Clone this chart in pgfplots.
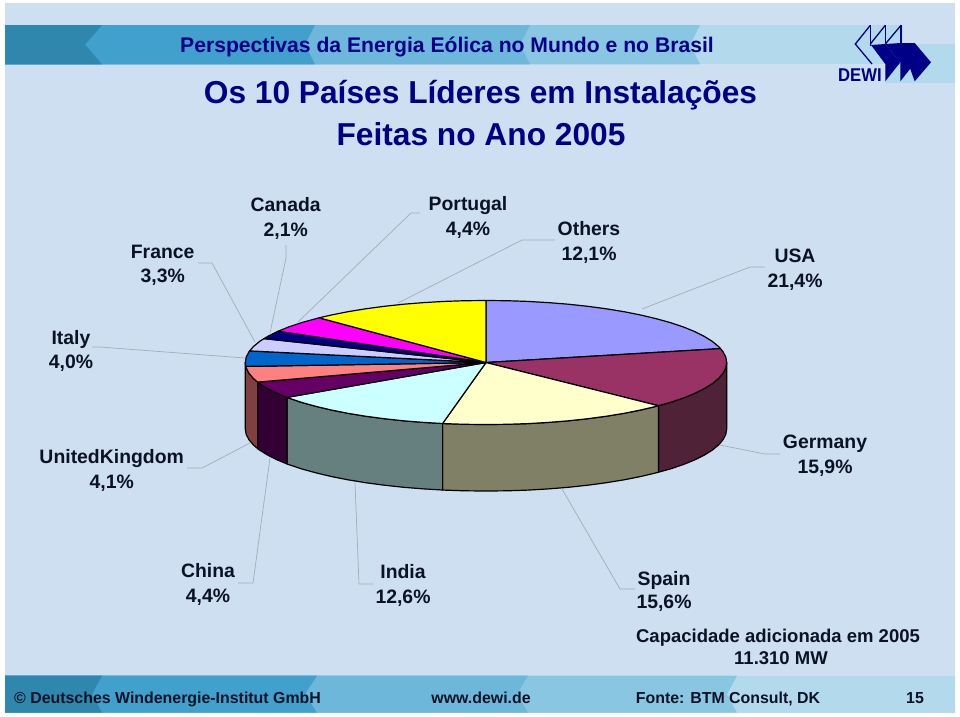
\documentclass[border=0pt]{standalone}
\usepackage{pgfplots}
\pgfplotsset{compat=1.18}
\usepackage{fontspec}
\setmainfont{Liberation Sans}
\definecolor{bg}{HTML}{CEDFF1}
\definecolor{txt}{HTML}{0B1226}
\definecolor{nav}{HTML}{000086}
\definecolor{ln}{HTML}{A3ADB8}
\definecolor{b1}{HTML}{2F87AD}
\definecolor{b2}{HTML}{41A0CC}
\definecolor{b3}{HTML}{6DB7DA}
\definecolor{b4}{HTML}{88C6E2}
\definecolor{b5}{HTML}{B2DAEC}
\tikzset{lbl/.style={anchor=base,inner sep=0pt,text=txt,font=\bfseries\fontsize{19.4}{23}\selectfont},
 capt/.style={lbl,font=\bfseries\fontsize{18.5}{22}\selectfont},
 foot/.style={lbl,font=\bfseries\fontsize{15.9}{20}\selectfont},
 wedge/.style={draw=black,line width=1.2pt,line join=round}}
\begin{document}
\begin{tikzpicture}
\begin{axis}[scale only axis,width=960pt,height=716pt,xmin=0,xmax=960,ymin=0,ymax=716,y dir=reverse,hide axis,no markers,clip=true]
% page and backdrop
\addplot[fill=white,draw=none] coordinates {(0,0)(960,0)(960,716)(0,716)} -- cycle;
\addplot[fill=bg,draw=none] coordinates {(5,3)(955,3)(955,713)(5,713)} -- cycle;
% top band
\addplot[fill=b5,draw=none] coordinates {(885,44)(955,44)(955,83)(885,83)} -- cycle;
\addplot[fill=b5,draw=none] coordinates {(5,25)(903,25)(903,64.3)(5,64.3)} -- cycle;
\addplot[fill=b4,draw=none] coordinates {(5,25)(700,25)(690,44.6)(700,64.3)(5,64.3)} -- cycle;
\addplot[fill=b3,draw=none] coordinates {(5,25)(530,25)(520,44.6)(530,64.3)(5,64.3)} -- cycle;
\addplot[fill=b2,draw=none] coordinates {(5,25)(315,25)(305,44.6)(315,64.3)(5,64.3)} -- cycle;
\addplot[fill=b1,draw=none] coordinates {(5,25)(102,25)(85,44.6)(102,64.3)(5,64.3)} -- cycle;
% bottom band
\addplot[fill=b5,draw=none] coordinates {(5,675.7)(955,675.7)(955,712.7)(5,712.7)} -- cycle;
\addplot[fill=b4,draw=none] coordinates {(5,675.7)(737,675.7)(727,694.2)(737,712.7)(5,712.7)} -- cycle;
\addplot[fill=b3,draw=none] coordinates {(5,675.7)(528,675.7)(517,694.2)(528,712.7)(5,712.7)} -- cycle;
\addplot[fill=b2,draw=none] coordinates {(5,675.7)(317,675.7)(305,694.2)(317,712.7)(5,712.7)} -- cycle;
\addplot[fill=b1,draw=none] coordinates {(5,675.7)(102,675.7)(92,694.2)(102,712.7)(5,712.7)} -- cycle;
% logo
\addplot[draw=nav,line width=1.3pt] coordinates {(870.3,25.3)(855.3,44)(872,64)};
\addplot[draw=nav,line width=1.3pt] coordinates {(870.3,25.3)(870.3,46)};
\addplot[draw=nav,line width=1.3pt] coordinates {(885.3,25.3)(870.3,44)};
\addplot[draw=nav,line width=1.3pt] coordinates {(885.3,25.3)(885.3,44)};
\addplot[draw=nav,line width=1.3pt] coordinates {(901,25.3)(885.3,44)};
\addplot[draw=nav,line width=1.3pt] coordinates {(901,25.3)(901,44)};
\addplot[fill=nav,draw=none] coordinates {(871,45)(885.3,44)(900.3,62.3)(885.3,81.3)(885.3,64)} -- cycle;
\addplot[fill=nav,draw=none] coordinates {(885.3,44)(901,43)(915.3,62.3)(900.3,81.3)(900.3,62.3)} -- cycle;
\addplot[fill=nav,draw=none] coordinates {(901,43)(914.7,43)(931,62.3)(914.7,81.3)} -- cycle;
\node[anchor=base west,inner sep=0pt,text=nav,xscale=0.9] at (axis cs:838,81.3) {\fontsize{18.5}{20}\selectfont\bfseries DEWI};
% leader lines
\addplot[ln,line width=0.7pt] coordinates {(198,263)(212,263)(255,342)};
\addplot[ln,line width=0.7pt] coordinates {(286,245)(286,258)(270,333)};
\addplot[ln,line width=0.7pt] coordinates {(420,213)(411,213)(298,322)};
\addplot[ln,line width=0.7pt] coordinates {(555,240)(522,240)(398,303)};
\addplot[ln,line width=0.7pt] coordinates {(765,267)(750,267)(642,309)};
\addplot[ln,line width=0.7pt] coordinates {(92,347)(100,347)(245,358)};
\addplot[ln,line width=0.7pt] coordinates {(187,468)(202,468)(250,443)};
\addplot[ln,line width=0.7pt] coordinates {(238,583)(253,583)(270,458)};
\addplot[ln,line width=0.7pt] coordinates {(373,584)(359,584)(355,483)};
\addplot[ln,line width=0.7pt] coordinates {(635,589)(620,589)(562,489)};
\addplot[ln,line width=0.7pt] coordinates {(780,454)(765,454)(720,445)};
% side walls
\addplot[wedge,fill={rgb,255:red,79;green,34;blue,55}] coordinates {(726.7,362.5)(725.8,367.9)(723,373.3)(718.5,378.5)(712.2,383.7)(704.1,388.7)(694.5,393.5)(683.2,398.1)(670.4,402.4)(658.5,405.7)(658.5,472.2)(670.4,468.9)(683.2,464.6)(694.5,460)(704.1,455.2)(712.2,450.2)(718.5,445)(723,439.8)(725.8,434.4)(726.7,429)} -- cycle;
\addplot[wedge,fill={rgb,255:red,128;green,128;blue,102}] coordinates {(658.5,405.7)(656.2,406.3)(640.7,410)(624.1,413.3)(606.4,416.2)(587.7,418.7)(568.3,420.8)(548.3,422.4)(527.8,423.6)(507,424.3)(486,424.5)(465,424.3)(444.2,423.6)(442.6,423.5)(442.6,490)(444.2,490.1)(465,490.8)(486,491)(507,490.8)(527.8,490.1)(548.3,488.9)(568.3,487.3)(587.7,485.2)(606.4,482.7)(624.1,479.8)(640.7,476.5)(656.2,472.8)(658.5,472.2)} -- cycle;
\addplot[wedge,fill={rgb,255:red,102;green,128;blue,128}] coordinates {(442.6,423.5)(423.7,422.4)(403.7,420.8)(384.3,418.7)(365.6,416.2)(347.9,413.3)(331.3,410)(315.8,406.3)(301.6,402.4)(288.8,398.1)(286.9,397.4)(286.9,463.9)(288.8,464.6)(301.6,468.9)(315.8,472.8)(331.3,476.5)(347.9,479.8)(365.6,482.7)(384.3,485.2)(403.7,487.3)(423.7,488.9)(442.6,490)} -- cycle;
\addplot[wedge,fill={rgb,255:red,51;green,0;blue,51}] coordinates {(286.9,397.4)(277.5,393.5)(267.9,388.7)(259.8,383.7)(257.6,382.1)(257.6,448.6)(259.8,450.2)(267.9,455.2)(277.5,460)(286.9,463.9)} -- cycle;
\addplot[wedge,fill={rgb,255:red,128;green,64;blue,64}] coordinates {(257.6,382.1)(253.5,378.5)(249,373.3)(246.2,367.9)(245.8,366.4)(245.3,362.5)(245.3,429)(246.2,434.4)(249,439.8)(253.5,445)(257.6,448.6)} -- cycle;
% top wedges: USA, Germany, Spain, India, China, UK, Italy, France, Canada, Portugal, Others
\addplot[wedge,fill={rgb,255:red,153;green,153;blue,255}] coordinates {(486,362.5)(486,300.5)(507,300.7)(527.8,301.4)(548.3,302.6)(568.3,304.2)(587.7,306.3)(606.4,308.8)(624.1,311.7)(640.7,315)(656.2,318.7)(670.4,322.6)(683.2,326.9)(694.5,331.5)(704.1,336.3)(712.2,341.3)(718.5,346.5)(720.5,348.6)} -- cycle;
\addplot[wedge,fill={rgb,255:red,153;green,51;blue,102}] coordinates {(486,362.5)(720.5,348.6)(723,351.7)(725.8,357.1)(726.7,362.5)(725.8,367.9)(723,373.3)(718.5,378.5)(712.2,383.7)(704.1,388.7)(694.5,393.5)(683.2,398.1)(670.4,402.4)(658.5,405.7)} -- cycle;
\addplot[wedge,fill={rgb,255:red,255;green,255;blue,204}] coordinates {(486,362.5)(658.5,405.7)(656.2,406.3)(640.7,410)(624.1,413.3)(606.4,416.2)(587.7,418.7)(568.3,420.8)(548.3,422.4)(527.8,423.6)(507,424.3)(486,424.5)(465,424.3)(444.2,423.6)(442.6,423.5)} -- cycle;
\addplot[wedge,fill={rgb,255:red,204;green,255;blue,255}] coordinates {(486,362.5)(442.6,423.5)(423.7,422.4)(403.7,420.8)(384.3,418.7)(365.6,416.2)(347.9,413.3)(331.3,410)(315.8,406.3)(301.6,402.4)(288.8,398.1)(286.9,397.4)} -- cycle;
\addplot[wedge,fill={rgb,255:red,102;green,0;blue,102}] coordinates {(486,362.5)(286.9,397.4)(277.5,393.5)(267.9,388.7)(259.8,383.7)(257.6,382.1)} -- cycle;
\addplot[wedge,fill={rgb,255:red,255;green,128;blue,128}] coordinates {(486,362.5)(257.6,382.1)(253.5,378.5)(249,373.3)(246.2,367.9)(245.8,366.4)} -- cycle;
\addplot[wedge,fill={rgb,255:red,0;green,102;blue,204}] coordinates {(486,362.5)(245.8,366.4)(245.3,362.5)(246.2,357.1)(249,351.7)(249.6,350.9)} -- cycle;
\addplot[wedge,fill={rgb,255:red,204;green,204;blue,255}] coordinates {(486,362.5)(249.6,350.9)(253.5,346.5)(259.8,341.3)(264,338.6)} -- cycle;
\addplot[wedge,fill={rgb,255:red,0;green,0;blue,128}] coordinates {(486,362.5)(264,338.6)(267.9,336.3)(277.5,331.5)(278.2,331.2)} -- cycle;
\addplot[wedge,fill={rgb,255:red,255;green,0;blue,255}] coordinates {(486,362.5)(278.2,331.2)(288.8,326.9)(301.6,322.6)(315.8,318.7)(319.1,317.8)} -- cycle;
\addplot[wedge,fill={rgb,255:red,255;green,255;blue,0}] coordinates {(486,362.5)(319.1,317.8)(331.3,315)(347.9,311.7)(365.6,308.8)(384.3,306.3)(403.7,304.2)(423.7,302.6)(444.2,301.4)(465,300.7)(486,300.5)} -- cycle;
% titles
\node[anchor=base,inner sep=0pt,text=nav] at (axis cs:447,52.7) {\fontsize{21.15}{25}\selectfont\bfseries Perspectivas da Energia Eólica no Mundo e no Brasil};
\node[anchor=base,inner sep=0pt,text=nav] at (axis cs:480.5,103) {\fontsize{31.7}{36}\selectfont\bfseries Os 10 Países Líderes em Instalações};
\node[anchor=base,inner sep=0pt,text=nav] at (axis cs:481,145) {\fontsize{31.7}{36}\selectfont\bfseries Feitas no Ano 2005};
% labels
\node[lbl] at (axis cs:162.7,258.3) {France};
\node[lbl] at (axis cs:162.7,282.7) {3,3\%};
\node[lbl] at (axis cs:285.7,211.7) {Canada};
\node[lbl] at (axis cs:285.7,236.7) {2,1\%};
\node[lbl] at (axis cs:468,210.5) {Portugal};
\node[lbl] at (axis cs:468,235) {4,4\%};
\node[lbl] at (axis cs:589,235) {Others};
\node[lbl] at (axis cs:589,260) {12,1\%};
\node[lbl] at (axis cs:795,262.3) {USA};
\node[lbl] at (axis cs:795,287.3) {21,4\%};
\node[lbl] at (axis cs:71,344) {Italy};
\node[lbl] at (axis cs:71,368) {4,0\%};
\node[lbl] at (axis cs:111.7,463.3) {UnitedKingdom};
\node[lbl] at (axis cs:111.7,488.3) {4,1\%};
\node[lbl] at (axis cs:825,448) {Germany};
\node[lbl] at (axis cs:825,473) {15,9\%};
\node[lbl] at (axis cs:208,577.3) {China};
\node[lbl] at (axis cs:208,602.7) {4,4\%};
\node[lbl] at (axis cs:403,578.3) {India};
\node[lbl] at (axis cs:403,603.3) {12,6\%};
\node[lbl] at (axis cs:664,585) {Spain};
\node[lbl] at (axis cs:664,608.3) {15,6\%};
\node[capt] at (axis cs:778,642.7) {Capacidade adicionada em 2005};
\node[capt] at (axis cs:781,664.3) {11.310 MW};
% footer
\node[foot,anchor=base west] at (axis cs:14,703.3) {© Deutsches Windenergie-Institut GmbH};
\node[foot] at (axis cs:481,703.3) {www.dewi.de};
\node[foot,anchor=base west] at (axis cs:635.7,703.3) {Fonte: BTM Consult, DK};
\node[foot] at (axis cs:915,703.3) {15};
\end{axis}
\end{tikzpicture}
\end{document}
